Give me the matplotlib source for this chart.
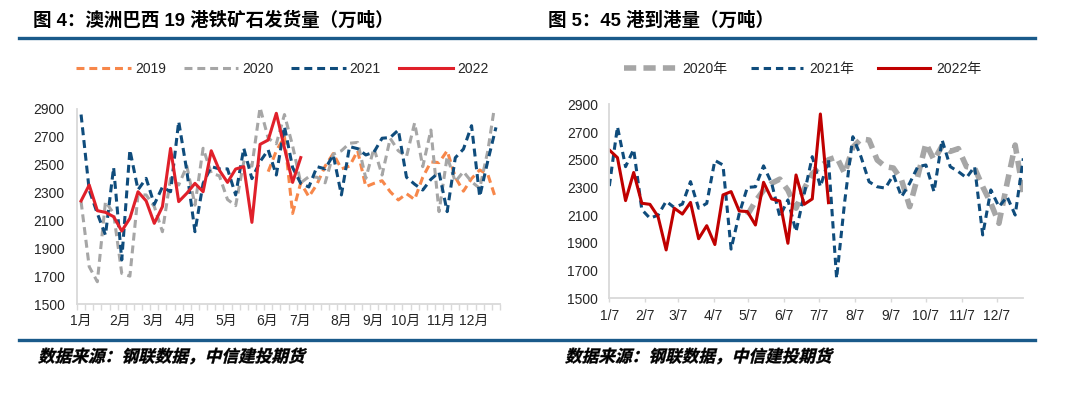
import matplotlib
matplotlib.use("Agg")
import matplotlib.pyplot as plt
import numpy as np
import pandas as pd
from matplotlib.lines import Line2D
from matplotlib.patches import PathPatch
from matplotlib.textpath import TextPath
from matplotlib.font_manager import FontProperties
from matplotlib.transforms import Affine2D

plt.rcParams["font.family"] = ["Liberation Sans", "Noto Sans CJK SC"]

# 图4: 澳洲巴西19港铁矿石发货量, weekly (52 weeks)
ship_2019 = [np.nan] * 23 + [
    2450, 2600, 2700, 2150, 2370, 2270, 2360, 2490, 2580, 2470, 2490, 2600,
    2342, 2366, 2385, 2306, 2247, 2292, 2250, 2410, 2520, 2515, 2600, 2410,
    2310, 2400, 2462, 2430, 2250,
]
ship_2020 = [
    2235, 1768, 1660, 2235, 2150, 1720, 1700, 2283, 2283, 2200, 2019, 2402,
    2354, 2490, 2210, 2618, 2440, 2420, 2250, 2206, 2520, 2490, 2910, 2690,
    2650, 2860, 2636, 2370, 2414, 2410, 2370, 2575, 2600, 2654, 2660, 2402,
    2618, 2426, 2689, 2600, 2558, 2800, 2486, 2749, 2163, 2558, 2378, 2450,
    2378, 2330, 2600, 2985,
]
ship_2021 = [
    2860, 2318, 2150, 1995, 2480, 1816, 2606, 2320, 2402, 2215, 2340, 2306,
    2810, 2455, 2019, 2366, 2486, 2470, 2470, 2283, 2618, 2400, 2522, 2606,
    2426, 2775, 2480, 2366, 2340, 2486, 2470, 2570, 2283, 2630, 2615, 2570,
    2590, 2690, 2695, 2749, 2410, 2360, 2318, 2395, 2445, 2163, 2550, 2612,
    2780, 2271, 2528, 2768,
]
ship_2022 = [
    2240, 2354, 2170, 2158, 2127, 2024, 2115, 2306, 2240, 2079, 2199, 2617,
    2235, 2295, 2366, 2306, 2600, 2460, 2373, 2469, 2486, 2086, 2646, 2677,
    2869, 2620, 2373, 2551,
]
month_labels = ["1月", "2月", "3月", "4月", "5月", "6月", "7月", "8月", "9月", "10月", "11月", "12月"]
month_pos = [0, 4.8, 8.9, 12.8, 17.8, 22.9, 26.9, 32, 35.9, 39.9, 44.2, 48.2]

# 图5: 45港到港量, weekly from 1/7
arr_2020 = [np.nan] * 17 + [
    2100, 2200, 2280, 2330, 2360, 2280, 2150, 2290, 2400, 2450, 2500, 2520,
    2400, 2590, 2650, 2642, 2498, 2450, 2440, 2354, 2161, 2380, 2618, 2498,
    2600, 2560, 2580, 2450, 2440, 2305, 2186, 2041, 2330, 2606, 2258,
]
arr_2021 = [
    2310, 2738, 2450, 2575, 2140, 2078, 2100, 2200, 2155, 2180, 2342, 2150,
    2185, 2495, 2462, 1855, 2110, 2300, 2305, 2456, 2330, 2090, 2210, 1981,
    2250, 2522, 2305, 2498, 1644, 2200, 2666, 2522, 2341, 2305, 2295, 2390,
    2233, 2330, 2450, 2462, 2269, 2642, 2450, 2414, 2370, 2450, 1957, 2282,
    2161, 2233, 2101, 2510,
]
arr_2022 = [
    2570, 2515, 2205, 2408, 2186, 2178, 2090, 1849, 2150, 2108, 2192, 1930,
    2024, 1888, 2246, 2270, 2130, 2126, 2029, 2337, 2217, 2202, 1897, 2390,
    2178, 2217, 2830, 2190,
]
arr_dates = pd.date_range("2022-01-07", periods=52, freq="7D")
date_ticks = pd.to_datetime([f"2022-{m:02d}-07" for m in range(1, 13)])
date_labels = [f"{m}/7" for m in range(1, 13)]

ORANGE = "#f7874a"
GRAY = "#a6a6a6"
BLUE = "#0f4c7c"
RED_L = "#e0202a"
RED_R = "#c00000"
AXIS = "#d9d9d9"
TXT = "#262626"
RULE = "#1a5a8a"

fig = plt.figure(figsize=(10.8, 3.94), dpi=100)


def style_axis(ax):
    for side in ("top", "right"):
        ax.spines[side].set_visible(False)
    for side in ("left", "bottom"):
        ax.spines[side].set_color(AXIS)
        ax.spines[side].set_linewidth(1.3)
    ax.set_ylim(1500, 2900)
    ax.set_yticks(range(1500, 3000, 200))
    ax.tick_params(axis="y", length=0, labelsize=10, labelcolor=TXT)
    ax.tick_params(axis="x", labelsize=10, labelcolor=TXT)


def slanted_text(x_px, y_px, s, size=12):
    # CJK fonts have no italic, so shear the glyph outlines by hand
    prop = FontProperties(family="Noto Sans CJK SC", weight="bold")
    path = TextPath((0, 0), s, size=size, prop=prop)
    tr = (Affine2D().skew_deg(14, 0).scale(1.0 / 72, 1.0 / 72)
          .translate(x_px / fig.dpi, (394 - y_px) / fig.dpi) + fig.dpi_scale_trans)
    fig.add_artist(PathPatch(path, transform=tr, facecolor="black", edgecolor="black", lw=0.3))


# left chart
ax1 = fig.add_axes([0.0713, 0.2284, 0.3917, 0.495])
weeks = np.arange(52)
ax1.plot(weeks, ship_2019, color=ORANGE, lw=2.2, dashes=(2.6, 1.6), label="2019")
ax1.plot(weeks, ship_2020, color=GRAY, lw=2.2, dashes=(2.6, 1.6), label="2020")
ax1.plot(weeks, ship_2021, color=BLUE, lw=2.2, dashes=(2.6, 1.6), label="2021")
ax1.plot(weeks[:len(ship_2022)], ship_2022, color=RED_L, lw=2.2, label="2022")
ax1.set_xlim(-0.5, 51.5)
style_axis(ax1)
ax1.tick_params(axis="y", pad=9)
ax1.set_xticks(month_pos, month_labels)
ax1.set_xticks(np.arange(-0.5, 52, 1), minor=True)
ax1.tick_params(axis="x", which="major", length=0, pad=7)
ax1.tick_params(axis="x", which="minor", length=4, color=AXIS, width=1)
fig.legend(*ax1.get_legend_handles_labels(), loc="center", bbox_to_anchor=(0.2616, 0.825),
           ncol=4, frameon=False, fontsize=10, handlelength=3.9, handletextpad=0.3,
           columnspacing=1.3, labelcolor=TXT)

# right chart
ax2 = fig.add_axes([0.5642, 0.2429, 0.3833, 0.4924])
ax2.plot(arr_dates, arr_2020, color=GRAY, lw=4, dashes=(2.2, 1.3), label="2020年")
ax2.plot(arr_dates, arr_2021, color=BLUE, lw=2.2, dashes=(2.4, 1.6), label="2021年")
ax2.plot(arr_dates[:len(arr_2022)], arr_2022, color=RED_R, lw=2.2, label="2022年")
ax2.set_xlim(pd.Timestamp("2022-01-07"), pd.Timestamp("2022-12-30"))
style_axis(ax2)
ax2.tick_params(axis="y", pad=8)
ax2.set_xticks(date_ticks, date_labels)
ax2.tick_params(axis="x", length=3, color=AXIS, width=1, pad=5)
fig.legend(*ax2.get_legend_handles_labels(), loc="center", bbox_to_anchor=(0.7435, 0.825),
           ncol=3, frameon=False, fontsize=10, handlelength=3.7, handletextpad=0.5,
           columnspacing=1.7, labelcolor=TXT)

# titles, rules, sources
fig.text(0.0306, 0.947, "图 4：澳洲巴西 19 港铁矿石发货量（万吨）", fontsize=13.3,
         fontweight="bold", va="center", ha="left", color="black")
fig.text(0.507, 0.947, "图 5：45 港到港量（万吨）", fontsize=13.3,
         fontweight="bold", va="center", ha="left", color="black")
fig.add_artist(Line2D([19 / 1080, 1035 / 1080], [1 - 37.5 / 394] * 2, color=RULE, lw=2.4))
fig.add_artist(Line2D([19 / 1080, 1035 / 1080], [1 - 340 / 394] * 2, color=RULE, lw=2.4))
slanted_text(38, 362, "数据来源：钢联数据，中信建投期货")
slanted_text(565, 362, "数据来源：钢联数据，中信建投期货")

fig.savefig("out.png", dpi=100)
